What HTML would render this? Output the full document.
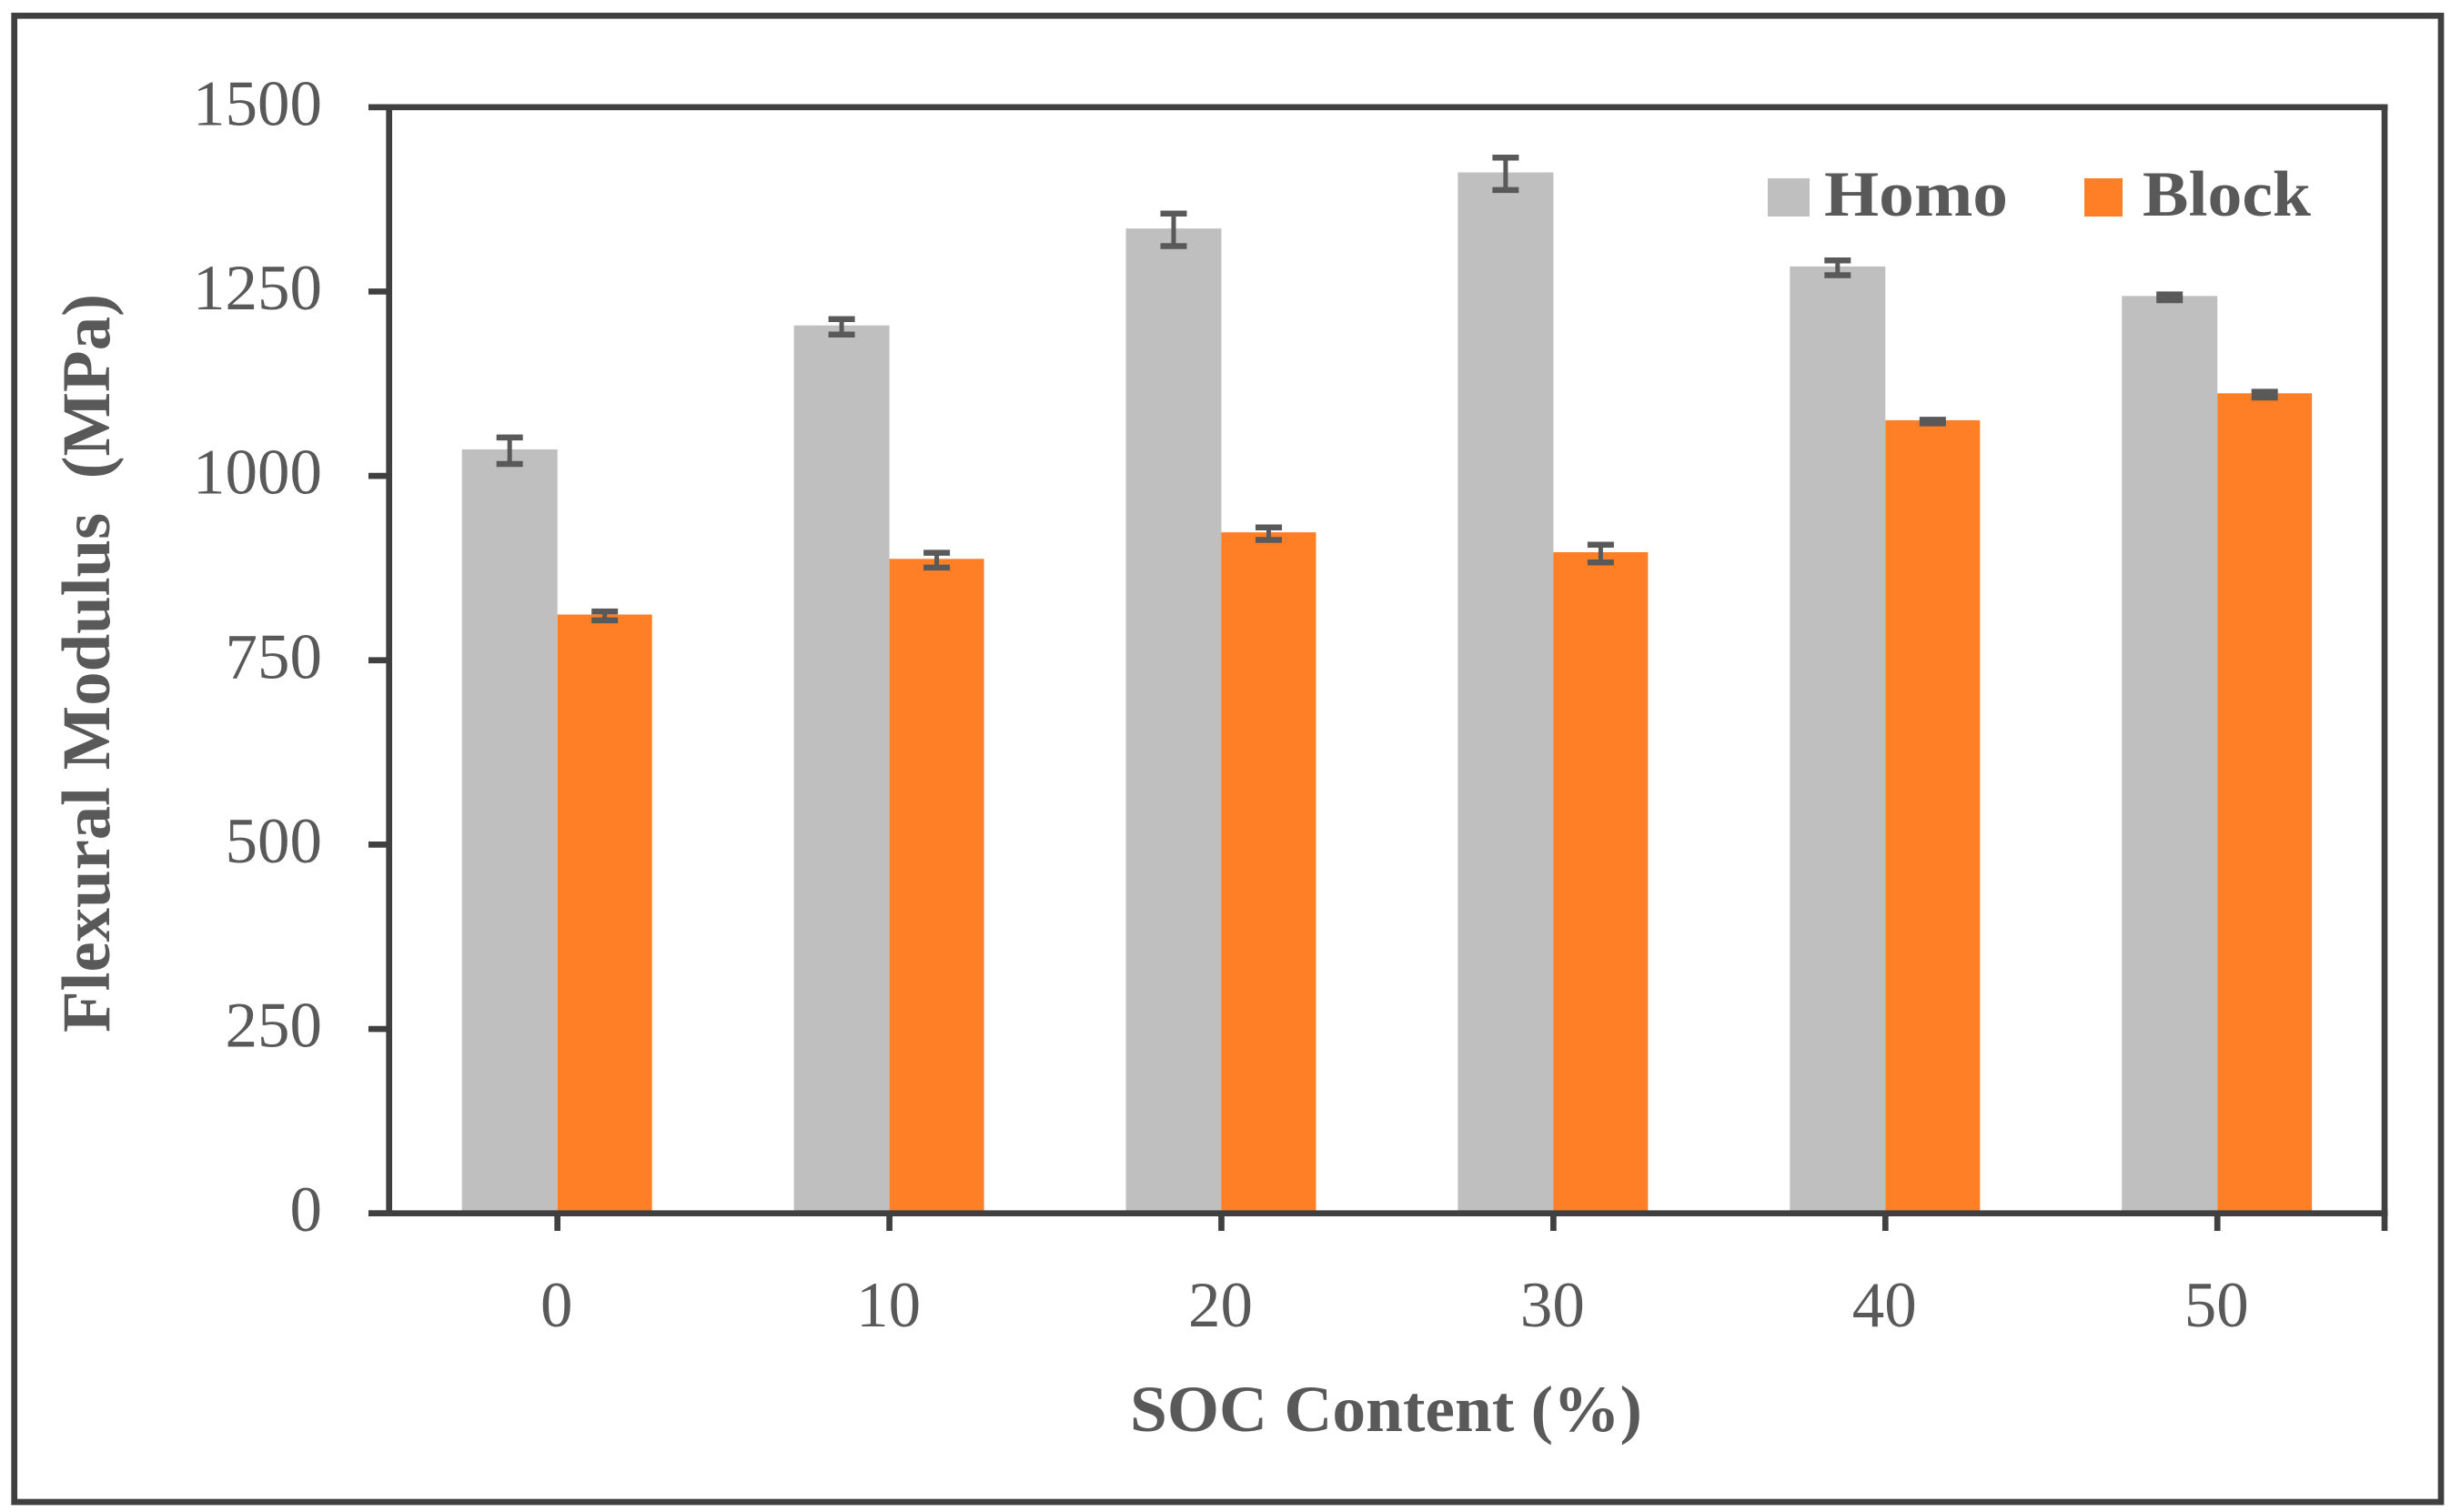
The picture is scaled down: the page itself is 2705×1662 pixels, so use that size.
<!DOCTYPE html>
<html lang="en">
<head>
<meta charset="utf-8">
<title>Flexural Modulus vs SOC Content</title>
<style>
  html, body { margin: 0; padding: 0; background: #ffffff; }
  svg { display: block; }
  text { font-family: "Liberation Serif", serif; fill: #595959; }
  .tick { font-size: 71px; }
  .title { font-size: 72px; font-weight: bold; }
  .title-y { font-size: 75px; font-weight: bold; }
  .legend-text { font-size: 71px; font-weight: bold; }
</style>
</head>
<body>
<svg id="chart" xmlns="http://www.w3.org/2000/svg" width="2705" height="1662" viewBox="0 0 2705 1662">
  <rect x="0" y="0" width="2705" height="1662" fill="#ffffff"/>
  <rect x="15.7" y="17.3" width="2667.3" height="1633.7" fill="none" stroke="#404040" stroke-width="6.7"/>
  <g id="bars"></g>
  <g id="errors"></g>
  <g id="axes">
    <line x1="405" y1="117.8" x2="2624.5" y2="117.8" stroke="#404040" stroke-width="6.7"/>
    <line x1="2621" y1="114.5" x2="2621" y2="1353" stroke="#404040" stroke-width="6.7"/>
    <line x1="427.7" y1="117.8" x2="427.7" y2="1333.7" stroke="#404040" stroke-width="6.7"/>
    <line x1="405" y1="1333.7" x2="2624.5" y2="1333.7" stroke="#404040" stroke-width="6.7"/>
  </g>
  <text class="title" x="1242" y="1573" textLength="563" lengthAdjust="spacingAndGlyphs">SOC Content (%)</text>
  <text class="title-y" transform="translate(120 1135) rotate(-90)" x="0" y="0" textLength="812" lengthAdjust="spacingAndGlyphs">Flexural Modulus &#160;(MPa)</text>
  <g>
    <rect x="1943" y="196" width="46" height="42" fill="#BFBFBF"/>
    <text class="legend-text" x="2005" y="237" textLength="202" lengthAdjust="spacingAndGlyphs">Homo</text>
    <rect x="2291" y="196" width="42" height="42" fill="#FF7F27"/>
    <text class="legend-text" x="2355" y="237" textLength="185" lengthAdjust="spacingAndGlyphs">Block</text>
  </g>
</svg>
<script>
const categories = ["0", "10", "20", "30", "40", "50"];
const homoValues = [1036, 1204, 1335.5, 1411.5, 1284, 1244];
const blockValues = [812, 887.5, 923.5, 896.5, 1075.5, 1112];
const homoErrors = [18, 10.5, 22, 22, 10, 4];
const blockErrors = [6, 10, 8.5, 12, 2.5, 4];
const yTickValues = [0, 250, 500, 750, 1000, 1250, 1500];

const svgNS = "http://www.w3.org/2000/svg";
const barsLayer = document.getElementById("bars");
const errorsLayer = document.getElementById("errors");
const axesLayer = document.getElementById("axes");
const chartRoot = document.getElementById("chart");

function yScale(value) {
  return 1333.7 - (value / 1500) * (1333.7 - 117.8);
}
function xScale(index) {
  return 612.7 + index * 364.9;
}

const homoBarWidth = 105;
const blockBarWidth = 104;
const capWidth = 29;
const capThick = 6.5;
const errorShift = 1.5;

function addBar(index, value, isHomo) {
  const el = document.createElementNS(svgNS, "rect");
  const left = isHomo ? xScale(index) - homoBarWidth : xScale(index);
  el.setAttribute("x", left);
  el.setAttribute("y", yScale(value));
  el.setAttribute("width", isHomo ? homoBarWidth : blockBarWidth);
  el.setAttribute("height", yScale(0) - yScale(value));
  el.setAttribute("fill", isHomo ? "#BFBFBF" : "#FF7F27");
  
  
  barsLayer.appendChild(el);
}

function addError(index, value, err, isHomo) {
  const cx = isHomo ? xScale(index) - homoBarWidth / 2 : xScale(index) + blockBarWidth / 2;
  const yTop = yScale(value + err) + errorShift;
  const yBot = yScale(value - err) + errorShift;

  const stem = document.createElementNS(svgNS, "line");
  stem.setAttribute("x1", cx);
  stem.setAttribute("x2", cx);
  stem.setAttribute("y1", yTop);
  stem.setAttribute("y2", yBot);
  stem.setAttribute("stroke", "#595959");
  stem.setAttribute("stroke-width", 5);
  
  
  errorsLayer.appendChild(stem);

  const capTop = document.createElementNS(svgNS, "line");
  capTop.setAttribute("x1", cx - capWidth / 2);
  capTop.setAttribute("x2", cx + capWidth / 2);
  capTop.setAttribute("y1", yTop);
  capTop.setAttribute("y2", yTop);
  capTop.setAttribute("stroke", "#595959");
  capTop.setAttribute("stroke-width", capThick);
  
  
  errorsLayer.appendChild(capTop);

  const capBot = document.createElementNS(svgNS, "line");
  capBot.setAttribute("x1", cx - capWidth / 2);
  capBot.setAttribute("x2", cx + capWidth / 2);
  capBot.setAttribute("y1", yBot);
  capBot.setAttribute("y2", yBot);
  capBot.setAttribute("stroke", "#595959");
  capBot.setAttribute("stroke-width", capThick);
  
  
  errorsLayer.appendChild(capBot);
}

categories.forEach(function (label, i) {
  addBar(i, homoValues[i], true);
  addBar(i, blockValues[i], false);
  addError(i, homoValues[i], homoErrors[i], true);
  addError(i, blockValues[i], blockErrors[i], false);

  const tick = document.createElementNS(svgNS, "line");
  tick.setAttribute("x1", xScale(i));
  tick.setAttribute("x2", xScale(i));
  tick.setAttribute("y1", 1333.7);
  tick.setAttribute("y2", 1353);
  tick.setAttribute("stroke", "#404040");
  tick.setAttribute("stroke-width", 6.7);
  
  
  axesLayer.appendChild(tick);

  const text = document.createElementNS(svgNS, "text");
  text.setAttribute("x", xScale(i) - 1);
  text.setAttribute("y", 1458);
  text.setAttribute("text-anchor", "middle");
  text.setAttribute("class", "tick");
  text.textContent = label;
  
  
  chartRoot.appendChild(text);
});

yTickValues.forEach(function (value) {
  const tick = document.createElementNS(svgNS, "line");
  tick.setAttribute("x1", 405);
  tick.setAttribute("x2", 427.7);
  tick.setAttribute("y1", yScale(value));
  tick.setAttribute("y2", yScale(value));
  tick.setAttribute("stroke", "#404040");
  tick.setAttribute("stroke-width", 6.7);
  
  
  axesLayer.appendChild(tick);

  const text = document.createElementNS(svgNS, "text");
  text.setAttribute("x", 354);
  text.setAttribute("y", yScale(value) + 19.5);
  text.setAttribute("text-anchor", "end");
  text.setAttribute("class", "tick");
  text.textContent = String(value);
  
  
  chartRoot.appendChild(text);
});
</script>
</body>
</html>
